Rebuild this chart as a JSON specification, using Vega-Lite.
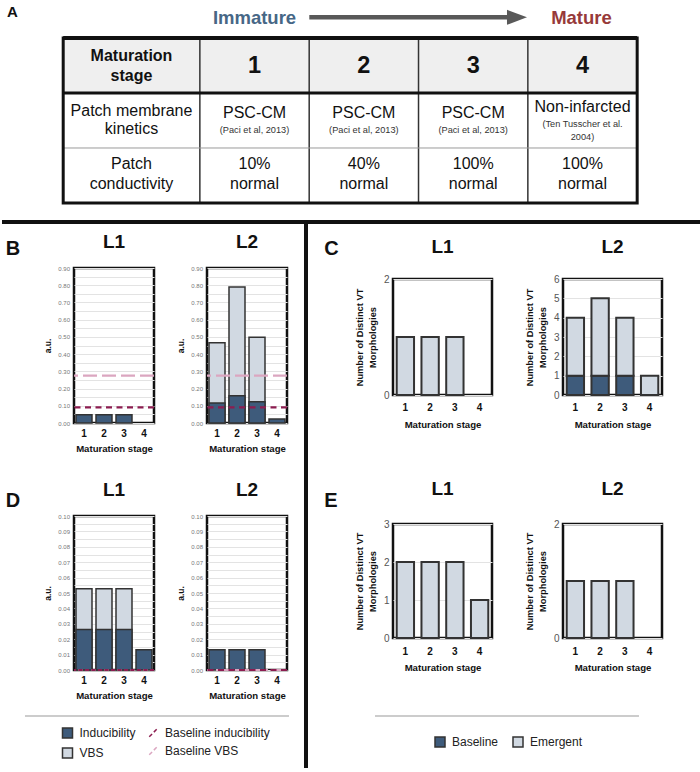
{
  "$schema": "https://vega.github.io/schema/vega-lite/v6.json",
  "background": "white",
  "padding": 0,
  "datasets": {
    "cells": [
      {"c": 0, "r": 0, "t": "Maturation\nstage", "k": "head"},
      {"c": 1, "r": 0, "t": "1", "k": "num"},
      {"c": 2, "r": 0, "t": "2", "k": "num"},
      {"c": 3, "r": 0, "t": "3", "k": "num"},
      {"c": 4, "r": 0, "t": "4", "k": "num"},
      {"c": 0, "r": 1, "t": "Patch membrane\nkinetics", "k": "rowlabel1"},
      {"c": 1, "r": 1, "t": "PSC-CM", "k": "main"},
      {"c": 2, "r": 1, "t": "PSC-CM", "k": "main"},
      {"c": 3, "r": 1, "t": "PSC-CM", "k": "main"},
      {"c": 1, "r": 1, "t": "(Paci et al, 2013)", "k": "ref"},
      {"c": 2, "r": 1, "t": "(Paci et al, 2013)", "k": "ref"},
      {"c": 3, "r": 1, "t": "(Paci et al, 2013)", "k": "ref"},
      {"c": 4, "r": 1, "t": "Non-infarcted", "k": "main4"},
      {"c": 4, "r": 1, "t": "(Ten Tusscher et al.\n2004)", "k": "ref4"},
      {"c": 0, "r": 2, "t": "Patch\nconductivity", "k": "rowlabel2"},
      {"c": 1, "r": 2, "t": "10%\nnormal", "k": "pct"},
      {"c": 2, "r": 2, "t": "40%\nnormal", "k": "pct"},
      {"c": 3, "r": 2, "t": "100%\nnormal", "k": "pct"},
      {"c": 4, "r": 2, "t": "100%\nnormal", "k": "pct"}
    ],
    "bars": [
      {"panel": "B", "loc": "L1", "stage": 1, "series": "Inducibility", "value": 0.048},
      {"panel": "B", "loc": "L1", "stage": 2, "series": "Inducibility", "value": 0.048},
      {"panel": "B", "loc": "L1", "stage": 3, "series": "Inducibility", "value": 0.048},
      {"panel": "B", "loc": "L2", "stage": 1, "series": "VBS", "value": 0.466},
      {"panel": "B", "loc": "L2", "stage": 2, "series": "VBS", "value": 0.79},
      {"panel": "B", "loc": "L2", "stage": 3, "series": "VBS", "value": 0.498},
      {"panel": "B", "loc": "L2", "stage": 1, "series": "Inducibility", "value": 0.116},
      {"panel": "B", "loc": "L2", "stage": 2, "series": "Inducibility", "value": 0.158},
      {"panel": "B", "loc": "L2", "stage": 3, "series": "Inducibility", "value": 0.124},
      {"panel": "B", "loc": "L2", "stage": 4, "series": "Inducibility", "value": 0.023},
      {"panel": "D", "loc": "L1", "stage": 1, "series": "VBS", "value": 0.0528},
      {"panel": "D", "loc": "L1", "stage": 2, "series": "VBS", "value": 0.0528},
      {"panel": "D", "loc": "L1", "stage": 3, "series": "VBS", "value": 0.0528},
      {"panel": "D", "loc": "L1", "stage": 1, "series": "Inducibility", "value": 0.0263},
      {"panel": "D", "loc": "L1", "stage": 2, "series": "Inducibility", "value": 0.0263},
      {"panel": "D", "loc": "L1", "stage": 3, "series": "Inducibility", "value": 0.0263},
      {"panel": "D", "loc": "L1", "stage": 4, "series": "Inducibility", "value": 0.0132},
      {"panel": "D", "loc": "L2", "stage": 1, "series": "Inducibility", "value": 0.0132},
      {"panel": "D", "loc": "L2", "stage": 2, "series": "Inducibility", "value": 0.0132},
      {"panel": "D", "loc": "L2", "stage": 3, "series": "Inducibility", "value": 0.0132}
    ],
    "baselines": [
      {"panel": "B", "loc": "L1", "series": "Baseline VBS", "value": 0.275},
      {"panel": "B", "loc": "L1", "series": "Baseline inducibility", "value": 0.091},
      {"panel": "B", "loc": "L2", "series": "Baseline VBS", "value": 0.275},
      {"panel": "B", "loc": "L2", "series": "Baseline inducibility", "value": 0.091},
      {"panel": "D", "loc": "L1", "series": "Baseline VBS", "value": 0},
      {"panel": "D", "loc": "L1", "series": "Baseline inducibility", "value": 0},
      {"panel": "D", "loc": "L2", "series": "Baseline VBS", "value": 0},
      {"panel": "D", "loc": "L2", "series": "Baseline inducibility", "value": 0}
    ],
    "vt": [
      {"panel": "C", "loc": "L1", "stage": 1, "type": "Emergent", "count": 1},
      {"panel": "C", "loc": "L1", "stage": 2, "type": "Emergent", "count": 1},
      {"panel": "C", "loc": "L1", "stage": 3, "type": "Emergent", "count": 1},
      {"panel": "C", "loc": "L2", "stage": 1, "type": "Baseline", "count": 1},
      {"panel": "C", "loc": "L2", "stage": 2, "type": "Baseline", "count": 1},
      {"panel": "C", "loc": "L2", "stage": 3, "type": "Baseline", "count": 1},
      {"panel": "C", "loc": "L2", "stage": 1, "type": "Emergent", "count": 3},
      {"panel": "C", "loc": "L2", "stage": 2, "type": "Emergent", "count": 4},
      {"panel": "C", "loc": "L2", "stage": 3, "type": "Emergent", "count": 3},
      {"panel": "C", "loc": "L2", "stage": 4, "type": "Emergent", "count": 1},
      {"panel": "E", "loc": "L1", "stage": 1, "type": "Emergent", "count": 2},
      {"panel": "E", "loc": "L1", "stage": 2, "type": "Emergent", "count": 2},
      {"panel": "E", "loc": "L1", "stage": 3, "type": "Emergent", "count": 2},
      {"panel": "E", "loc": "L1", "stage": 4, "type": "Emergent", "count": 1},
      {"panel": "E", "loc": "L2", "stage": 1, "type": "Emergent", "count": 1},
      {"panel": "E", "loc": "L2", "stage": 2, "type": "Emergent", "count": 1},
      {"panel": "E", "loc": "L2", "stage": 3, "type": "Emergent", "count": 1}
    ]
  },
  "config": {
    "view": {"stroke": "#111", "strokeWidth": 2.5},
    "title": {"font": "Liberation Sans", "fontWeight": "bold", "fontSize": 19, "color": "#111", "baseline": "alphabetic", "frame": "group", "anchor": "middle"},
    "axis": {"domain": false, "ticks": false, "labelFont": "Liberation Sans", "titleFont": "Liberation Sans", "titleFontWeight": "bold", "titleColor": "#111", "gridColor": "#e3e3e3", "gridWidth": 1, "labelOverlap": false},
    "axisX": {"labelAngle": 0, "labelFontSize": 10, "labelFontWeight": "bold", "labelColor": "#111", "titleFontSize": 9.6, "grid": false},
    "axisY": {"grid": true, "tickCount": 100},
    "legend": {"padding": 0, "labelFont": "Liberation Sans", "labelFontSize": 12, "labelColor": "#222", "labelLimit": 0, "symbolSize": 100, "labelOffset": 6}
  },
  "bounds": "flush",
  "spacing": 46,
  "resolve": {"scale": {"color": "independent", "stroke": "independent", "strokeDash": "independent"}, "legend": {"color": "independent", "stroke": "independent", "strokeDash": "independent"}},
  "vconcat": [
    {
      "width": 626,
      "height": 222,
      "view": {"stroke": null},
      "data": {"name": "cells"},
      "layer": [
        {"data": {"values": [{}]}, "mark": {"type": "rect", "color": "#efefef"},
         "encoding": {
           "x": {"datum": -0.75, "type": "quantitative", "scale": {"domain": [-0.6512, 5.0746], "nice": false, "zero": false}, "axis": null},
           "x2": {"datum": 4.5},
           "y": {"datum": -0.5, "type": "quantitative", "scale": {"domain": [-1.1909, 2.8455], "nice": false, "zero": false, "reverse": true}, "axis": null},
           "y2": {"datum": 0.5}}},
        {"data": {"values": [{}]}, "mark": {"type": "rule", "stroke": "#333", "strokeWidth": 1.5},
         "encoding": {"x": {"datum": 0.5, "type": "quantitative"}, "y": {"datum": -0.5, "type": "quantitative"}, "y2": {"datum": 2.5}}},
        {"data": {"values": [{}]}, "mark": {"type": "rule", "stroke": "#333", "strokeWidth": 1.5},
         "encoding": {"x": {"datum": 1.5, "type": "quantitative"}, "y": {"datum": -0.5, "type": "quantitative"}, "y2": {"datum": 2.5}}},
        {"data": {"values": [{}]}, "mark": {"type": "rule", "stroke": "#333", "strokeWidth": 1.5},
         "encoding": {"x": {"datum": 2.5, "type": "quantitative"}, "y": {"datum": -0.5, "type": "quantitative"}, "y2": {"datum": 2.5}}},
        {"data": {"values": [{}]}, "mark": {"type": "rule", "stroke": "#333", "strokeWidth": 1.5},
         "encoding": {"x": {"datum": 3.5, "type": "quantitative"}, "y": {"datum": -0.5, "type": "quantitative"}, "y2": {"datum": 2.5}}},
        {"data": {"values": [{}]}, "mark": {"type": "rule", "stroke": "#9a9a9a", "strokeWidth": 1},
         "encoding": {"x": {"datum": -0.75, "type": "quantitative"}, "x2": {"datum": 4.5}, "y": {"datum": 1.5, "type": "quantitative"}}},
        {"data": {"values": [{}]}, "mark": {"type": "rule", "stroke": "#111", "strokeWidth": 3},
         "encoding": {"x": {"datum": -0.75, "type": "quantitative"}, "x2": {"datum": 4.5}, "y": {"datum": 0.5, "type": "quantitative"}}},
        {"data": {"values": [{}]}, "mark": {"type": "rect", "fillOpacity": 0, "stroke": "#111", "strokeWidth": 3},
         "encoding": {"x": {"datum": -0.75, "type": "quantitative"}, "x2": {"datum": 4.5}, "y": {"datum": -0.5, "type": "quantitative"}, "y2": {"datum": 2.5}}},
        {"data": {"values": [{}]}, "mark": {"type": "rule", "stroke": "#111", "strokeWidth": 4},
         "encoding": {"x": {"datum": -0.75, "type": "quantitative"}, "x2": {"datum": 4.5}, "y": {"datum": -0.5, "type": "quantitative"}}},
        {"transform": [{"filter": "datum.k === 'head'"}],
         "mark": {"type": "text", "font": "Liberation Sans", "fontWeight": "bold", "fontSize": 16, "lineBreak": "\n", "lineHeight": 20, "dx": -13.7, "dy": -9.5, "baseline": "middle", "align": "center", "color": "#111"},
         "encoding": {"x": {"field": "c", "type": "quantitative"}, "y": {"field": "r", "type": "quantitative"}, "text": {"field": "t"}}},
        {"transform": [{"filter": "datum.k === 'num'"}],
         "mark": {"type": "text", "font": "Liberation Sans", "fontWeight": "bold", "fontSize": 23.5, "dy": 1, "baseline": "middle", "align": "center", "color": "#111"},
         "encoding": {"x": {"field": "c", "type": "quantitative"}, "y": {"field": "r", "type": "quantitative"}, "text": {"field": "t"}}},
        {"transform": [{"filter": "datum.k === 'rowlabel1'"}],
         "mark": {"type": "text", "font": "Liberation Sans", "fontSize": 16, "lineBreak": "\n", "lineHeight": 18, "dx": -13.7, "dy": -9.5, "baseline": "middle", "align": "center", "color": "#111"},
         "encoding": {"x": {"field": "c", "type": "quantitative"}, "y": {"field": "r", "type": "quantitative"}, "text": {"field": "t"}}},
        {"transform": [{"filter": "datum.k === 'rowlabel2'"}],
         "mark": {"type": "text", "font": "Liberation Sans", "fontSize": 16, "lineBreak": "\n", "lineHeight": 20, "dx": -13.7, "dy": -11.5, "baseline": "middle", "align": "center", "color": "#111"},
         "encoding": {"x": {"field": "c", "type": "quantitative"}, "y": {"field": "r", "type": "quantitative"}, "text": {"field": "t"}}},
        {"transform": [{"filter": "datum.k === 'main'"}],
         "mark": {"type": "text", "font": "Liberation Sans", "fontSize": 16, "dy": -7, "baseline": "middle", "align": "center", "color": "#111"},
         "encoding": {"x": {"field": "c", "type": "quantitative"}, "y": {"field": "r", "type": "quantitative"}, "text": {"field": "t"}}},
        {"transform": [{"filter": "datum.k === 'main4'"}],
         "mark": {"type": "text", "font": "Liberation Sans", "fontSize": 16, "dy": -13, "baseline": "middle", "align": "center", "color": "#111"},
         "encoding": {"x": {"field": "c", "type": "quantitative"}, "y": {"field": "r", "type": "quantitative"}, "text": {"field": "t"}}},
        {"transform": [{"filter": "datum.k === 'ref'"}],
         "mark": {"type": "text", "font": "Liberation Sans", "fontSize": 9.2, "dy": 9.5, "baseline": "middle", "align": "center", "color": "#333"},
         "encoding": {"x": {"field": "c", "type": "quantitative"}, "y": {"field": "r", "type": "quantitative"}, "text": {"field": "t"}}},
        {"transform": [{"filter": "datum.k === 'ref4'"}],
         "mark": {"type": "text", "font": "Liberation Sans", "fontSize": 9.2, "lineBreak": "\n", "lineHeight": 13, "dy": 4, "baseline": "middle", "align": "center", "color": "#333"},
         "encoding": {"x": {"field": "c", "type": "quantitative"}, "y": {"field": "r", "type": "quantitative"}, "text": {"field": "t"}}},
        {"transform": [{"filter": "datum.k === 'pct'"}],
         "mark": {"type": "text", "font": "Liberation Sans", "fontSize": 16, "lineBreak": "\n", "lineHeight": 20, "dy": -11.5, "baseline": "middle", "align": "center", "color": "#111"},
         "encoding": {"x": {"field": "c", "type": "quantitative"}, "y": {"field": "r", "type": "quantitative"}, "text": {"field": "t"}}},
        {"data": {"values": [{}]}, "mark": {"type": "rule", "stroke": "#595959", "strokeWidth": 4.5},
         "encoding": {"x": {"datum": 1.501, "type": "quantitative"}, "x2": {"datum": 3.32}, "y": {"datum": -0.876, "type": "quantitative"}}},
        {"data": {"values": [{}]}, "mark": {"type": "point", "shape": "M-1,-0.75L1,0L-1,0.75Z", "size": 400, "filled": true, "color": "#595959", "opacity": 1, "strokeWidth": 0},
         "encoding": {"x": {"datum": 3.4006, "type": "quantitative"}, "y": {"datum": -0.876, "type": "quantitative"}}},
        {"data": {"values": [{}]}, "mark": {"type": "text", "text": "Immature", "font": "Liberation Sans", "fontWeight": "bold", "fontSize": 18.5, "baseline": "middle", "align": "center", "color": "#476786"},
         "encoding": {"x": {"datum": 1.0, "type": "quantitative"}, "y": {"datum": -0.87, "type": "quantitative"}}},
        {"data": {"values": [{}]}, "mark": {"type": "text", "text": "Mature", "font": "Liberation Sans", "fontWeight": "bold", "fontSize": 18.5, "baseline": "middle", "align": "center", "color": "#973a3a"},
         "encoding": {"x": {"datum": 3.9906, "type": "quantitative"}, "y": {"datum": -0.87, "type": "quantitative"}}},
        {"data": {"values": [{}]}, "mark": {"type": "text", "text": "A", "font": "Liberation Sans", "fontWeight": "bold", "fontSize": 15, "baseline": "middle", "align": "center", "color": "#111"},
         "encoding": {"x": {"datum": -1.2138, "type": "quantitative"}, "y": {"datum": -0.9727, "type": "quantitative"}}},
        {"data": {"values": [{}]}, "mark": {"type": "text", "text": "B", "font": "Liberation Sans", "fontWeight": "bold", "fontSize": 20, "baseline": "middle", "align": "center", "color": "#111"},
         "encoding": {"x": {"datum": -1.2092, "type": "quantitative"}, "y": {"datum": 3.33, "type": "quantitative"}}},
        {"data": {"values": [{}]}, "mark": {"type": "text", "text": "C", "font": "Liberation Sans", "fontWeight": "bold", "fontSize": 20, "baseline": "middle", "align": "center", "color": "#111"},
         "encoding": {"x": {"datum": 1.704, "type": "quantitative"}, "y": {"datum": 3.33, "type": "quantitative"}}},
        {"data": {"values": [{}]}, "mark": {"type": "text", "text": "D", "font": "Liberation Sans", "fontWeight": "bold", "fontSize": 20, "baseline": "middle", "align": "center", "color": "#111"},
         "encoding": {"x": {"datum": -1.2092, "type": "quantitative"}, "y": {"datum": 7.92, "type": "quantitative"}}},
        {"data": {"values": [{}]}, "mark": {"type": "text", "text": "E", "font": "Liberation Sans", "fontWeight": "bold", "fontSize": 20, "baseline": "middle", "align": "center", "color": "#111"},
         "encoding": {"x": {"datum": 1.6995, "type": "quantitative"}, "y": {"datum": 7.92, "type": "quantitative"}}},
        {"data": {"values": [{}]}, "mark": {"type": "rule", "stroke": "#111", "strokeWidth": 4},
         "encoding": {"x": {"datum": -1.3097, "type": "quantitative"}, "x2": {"datum": 5.0746}, "y": {"datum": 2.8455, "type": "quantitative"}}},
        {"data": {"values": [{}]}, "mark": {"type": "rule", "stroke": "#111", "strokeWidth": 4},
         "encoding": {"x": {"datum": 1.4708, "type": "quantitative"}, "y": {"datum": 2.8455, "type": "quantitative"}, "y2": {"datum": 12.7727}}},
        {"data": {"values": [{}]}, "mark": {"type": "rule", "stroke": "#cccccc", "strokeWidth": 2},
         "encoding": {"x": {"datum": -1.0995, "type": "quantitative"}, "x2": {"datum": 1.3153}, "y": {"datum": 11.8273, "type": "quantitative"}}},
        {"data": {"values": [{}]}, "mark": {"type": "rule", "stroke": "#cccccc", "strokeWidth": 2},
         "encoding": {"x": {"datum": 2.1019, "type": "quantitative"}, "x2": {"datum": 4.5164}, "y": {"datum": 11.8273, "type": "quantitative"}}}
      ]
    },
    {
      "bounds": "full",
      "spacing": 64,
      "resolve": {"scale": {"color": "independent", "stroke": "independent", "strokeDash": "independent"}, "legend": {"color": "independent", "stroke": "independent", "strokeDash": "independent"}},
      "hconcat": [
        {
          "bounds": "flush",
          "spacing": 248,
          "resolve": {"scale": {"color": "independent", "stroke": "independent", "strokeDash": "independent"}, "legend": {"color": "independent", "stroke": "independent", "strokeDash": "independent"}},
          "vconcat": [
            {
              "bounds": "flush",
              "spacing": 53,
              "resolve": {"scale": {"color": "independent", "stroke": "independent", "strokeDash": "independent"}, "legend": {"color": "independent", "stroke": "independent", "strokeDash": "independent"}},
              "hconcat": [
                {
                  "width": 80, "height": 155,
                  "title": {"text": "L1", "offset": 13.3},
                  "layer": [
                    {"data": {"name": "bars"}, "transform": [{"filter": "datum.panel === 'B' && datum.loc === 'L1'"}],
                     "mark": {"type": "bar", "stroke": "#333", "strokeWidth": 1.5},
                     "encoding": {
                       "x": {"field": "stage", "type": "ordinal", "scale": {"domain": [1, 2, 3, 4], "paddingInner": 0.2, "paddingOuter": 0.1},
                             "axis": {"title": "Maturation stage", "labelPadding": 5.5, "titlePadding": 5.2}},
                       "y": {"field": "value", "type": "quantitative", "stack": null, "scale": {"domain": [0, 0.9], "nice": false},
                             "axis": {"title": "a.u.", "values": [0, 0.05, 0.1, 0.15, 0.2, 0.25, 0.3, 0.35, 0.4, 0.45, 0.5, 0.55, 0.6, 0.65, 0.7, 0.75, 0.8, 0.85, 0.9], "tickCount": 100,
                                      "labelExpr": "round(datum.value * 100) % 10 === 0 ? format(datum.value, '.2f') : ''", "labelOverlap": false,
                                      "labelFontSize": 6, "labelColor": "#777", "labelPadding": 4.5, "titleFontSize": 8.5, "titlePadding": 5}},
                       "color": {"field": "series", "type": "nominal", "scale": {"domain": ["Inducibility", "VBS"], "range": ["#3e5b7b", "#d1d9e2"]}, "legend": null}
                     }},
                    {"data": {"name": "baselines"}, "transform": [{"filter": "datum.panel === 'B' && datum.loc === 'L1'"}],
                     "mark": {"type": "rule", "strokeWidth": 2.2},
                     "encoding": {
                       "y": {"field": "value", "type": "quantitative"},
                       "stroke": {"field": "series", "type": "nominal", "scale": {"domain": ["Baseline inducibility", "Baseline VBS"], "range": ["#8c1d50", "#dba6c0"]}, "legend": null},
                       "strokeDash": {"field": "series", "type": "nominal", "scale": {"domain": ["Baseline inducibility", "Baseline VBS"], "range": [[6, 4.5], [14, 5]]}, "legend": null}
                     }}
                  ]
                },
                {
                  "width": 80, "height": 155,
                  "title": {"text": "L2", "offset": 13.3},
                  "layer": [
                    {"data": {"name": "bars"}, "transform": [{"filter": "datum.panel === 'B' && datum.loc === 'L2'"}],
                     "mark": {"type": "bar", "stroke": "#333", "strokeWidth": 1.5},
                     "encoding": {
                       "x": {"field": "stage", "type": "ordinal", "scale": {"domain": [1, 2, 3, 4], "paddingInner": 0.2, "paddingOuter": 0.1},
                             "axis": {"title": "Maturation stage", "labelPadding": 5.5, "titlePadding": 5.2}},
                       "y": {"field": "value", "type": "quantitative", "stack": null, "scale": {"domain": [0, 0.9], "nice": false},
                             "axis": {"title": "a.u.", "values": [0, 0.05, 0.1, 0.15, 0.2, 0.25, 0.3, 0.35, 0.4, 0.45, 0.5, 0.55, 0.6, 0.65, 0.7, 0.75, 0.8, 0.85, 0.9], "tickCount": 100,
                                      "labelExpr": "round(datum.value * 100) % 10 === 0 ? format(datum.value, '.2f') : ''", "labelOverlap": false,
                                      "labelFontSize": 6, "labelColor": "#777", "labelPadding": 4.5, "titleFontSize": 8.5, "titlePadding": 5}},
                       "color": {"field": "series", "type": "nominal", "scale": {"domain": ["Inducibility", "VBS"], "range": ["#3e5b7b", "#d1d9e2"]}, "legend": null}
                     }},
                    {"data": {"name": "baselines"}, "transform": [{"filter": "datum.panel === 'B' && datum.loc === 'L2'"}],
                     "mark": {"type": "rule", "strokeWidth": 2.2},
                     "encoding": {
                       "y": {"field": "value", "type": "quantitative"},
                       "stroke": {"field": "series", "type": "nominal", "scale": {"domain": ["Baseline inducibility", "Baseline VBS"], "range": ["#8c1d50", "#dba6c0"]}, "legend": null},
                       "strokeDash": {"field": "series", "type": "nominal", "scale": {"domain": ["Baseline inducibility", "Baseline VBS"], "range": [[6, 4.5], [14, 5]]}, "legend": null}
                     }}
                  ]
                }
              ]
            },
            {
              "bounds": "flush",
              "spacing": 53,
              "resolve": {"scale": {"color": "independent", "stroke": "independent", "strokeDash": "independent"}, "legend": {"color": "independent", "stroke": "independent", "strokeDash": "independent"}},
              "hconcat": [
                {
                  "width": 80, "height": 154,
                  "title": {"text": "L1", "offset": 12.8},
                  "layer": [
                    {"data": {"name": "bars"}, "transform": [{"filter": "datum.panel === 'D' && datum.loc === 'L1'"}],
                     "mark": {"type": "bar", "stroke": "#333", "strokeWidth": 1.5},
                     "encoding": {
                       "x": {"field": "stage", "type": "ordinal", "scale": {"domain": [1, 2, 3, 4], "paddingInner": 0.2, "paddingOuter": 0.1},
                             "axis": {"title": "Maturation stage", "labelPadding": 5.5, "titlePadding": 5.2}},
                       "y": {"field": "value", "type": "quantitative", "stack": null, "scale": {"domain": [0, 0.1], "nice": false},
                             "axis": {"title": "a.u.", "values": [0, 0.005, 0.01, 0.015, 0.02, 0.025, 0.03, 0.035, 0.04, 0.045, 0.05, 0.055, 0.06, 0.065, 0.07, 0.075, 0.08, 0.085, 0.09, 0.095, 0.1], "tickCount": 100,
                                      "labelExpr": "round(datum.value * 1000) % 10 === 0 ? format(datum.value, '.2f') : ''", "labelOverlap": false,
                                      "labelFontSize": 6, "labelColor": "#777", "labelPadding": 4.5, "titleFontSize": 8.5, "titlePadding": 5}},
                       "color": {"field": "series", "type": "nominal", "scale": {"domain": ["Inducibility", "VBS"], "range": ["#3e5b7b", "#d1d9e2"]},
                                 "legend": {"orient": "none", "legendX": -12.5, "legendY": 211, "title": null, "direction": "vertical", "rowPadding": 4}}
                     }},
                    {"data": {"name": "baselines"}, "transform": [{"filter": "datum.panel === 'D' && datum.loc === 'L1'"}],
                     "mark": {"type": "rule", "strokeWidth": 2.2},
                     "encoding": {
                       "y": {"field": "value", "type": "quantitative"},
                       "stroke": {"field": "series", "type": "nominal", "scale": {"domain": ["Baseline inducibility", "Baseline VBS"], "range": ["#8c1d50", "#dba6c0"]},
                                  "legend": {"orient": "none", "legendX": 73, "legendY": 211, "title": null, "direction": "vertical", "rowPadding": 4, "symbolType": "M-0.75,0.75L0.75,-0.75"}},
                       "strokeDash": {"field": "series", "type": "nominal", "scale": {"domain": ["Baseline inducibility", "Baseline VBS"], "range": [[4, 2.5], [4, 2.5]]}}
                     }}
                  ]
                },
                {
                  "width": 80, "height": 154,
                  "title": {"text": "L2", "offset": 12.8},
                  "layer": [
                    {"data": {"name": "bars"}, "transform": [{"filter": "datum.panel === 'D' && datum.loc === 'L2'"}],
                     "mark": {"type": "bar", "stroke": "#333", "strokeWidth": 1.5},
                     "encoding": {
                       "x": {"field": "stage", "type": "ordinal", "scale": {"domain": [1, 2, 3, 4], "paddingInner": 0.2, "paddingOuter": 0.1},
                             "axis": {"title": "Maturation stage", "labelPadding": 5.5, "titlePadding": 5.2}},
                       "y": {"field": "value", "type": "quantitative", "stack": null, "scale": {"domain": [0, 0.1], "nice": false},
                             "axis": {"title": "a.u.", "values": [0, 0.005, 0.01, 0.015, 0.02, 0.025, 0.03, 0.035, 0.04, 0.045, 0.05, 0.055, 0.06, 0.065, 0.07, 0.075, 0.08, 0.085, 0.09, 0.095, 0.1], "tickCount": 100,
                                      "labelExpr": "round(datum.value * 1000) % 10 === 0 ? format(datum.value, '.2f') : ''", "labelOverlap": false,
                                      "labelFontSize": 6, "labelColor": "#777", "labelPadding": 4.5, "titleFontSize": 8.5, "titlePadding": 5}},
                       "color": {"field": "series", "type": "nominal", "scale": {"domain": ["Inducibility", "VBS"], "range": ["#3e5b7b", "#d1d9e2"]}, "legend": null}
                     }},
                    {"data": {"name": "baselines"}, "transform": [{"filter": "datum.panel === 'D' && datum.loc === 'L2'"}],
                     "mark": {"type": "rule", "strokeWidth": 2.2},
                     "encoding": {
                       "y": {"field": "value", "type": "quantitative"},
                       "stroke": {"field": "series", "type": "nominal", "scale": {"domain": ["Baseline inducibility", "Baseline VBS"], "range": ["#8c1d50", "#dba6c0"]}, "legend": null},
                       "strokeDash": {"field": "series", "type": "nominal", "scale": {"domain": ["Baseline inducibility", "Baseline VBS"], "range": [[6, 4.5], [14, 5]]}, "legend": null}
                     }}
                  ]
                }
              ]
            }
          ]
        },
        {
          "bounds": "flush",
          "spacing": 0,
          "resolve": {"scale": {"color": "independent"}, "legend": {"color": "independent"}},
          "vconcat": [
            {"width": 1, "height": 11, "view": {"stroke": null}, "data": {"values": []}, "mark": "point", "encoding": {}},
            {
              "bounds": "flush",
              "spacing": 245,
              "resolve": {"scale": {"color": "independent"}, "legend": {"color": "independent"}},
              "vconcat": [
                {
                  "bounds": "flush",
                  "spacing": 71,
                  "resolve": {"scale": {"color": "independent"}, "legend": {"color": "independent"}},
                  "hconcat": [
                    {
                      "width": 99, "height": 116,
                      "title": {"text": "L1", "offset": 17.5},
                      "data": {"name": "vt"},
                      "transform": [{"filter": "datum.panel === 'C' && datum.loc === 'L1'"}],
                      "mark": {"type": "bar", "stroke": "#333", "strokeWidth": 2},
                      "encoding": {
                        "x": {"field": "stage", "type": "ordinal", "scale": {"domain": [1, 2, 3, 4], "paddingInner": 0.3, "paddingOuter": 0.15},
                              "axis": {"title": "Maturation stage", "labelPadding": 7.5, "titlePadding": 7}},
                        "y": {"field": "count", "type": "quantitative", "scale": {"domain": [0, 2], "nice": false},
                              "axis": {"title": ["Number of Distinct VT", "Morphologies"], "values": [0, 1, 2], "format": "d", "labelFontSize": 10, "labelColor": "#555", "labelPadding": 4, "titleFontSize": 9.3, "titleLineHeight": 13, "titlePadding": 5.5}},
                        "color": {"field": "type", "type": "nominal", "scale": {"domain": ["Baseline", "Emergent"], "range": ["#3e5b7b", "#d1d9e2"]}, "legend": null},
                        "order": {"field": "type", "sort": "ascending"}
                      }
                    },
                    {
                      "width": 99, "height": 116,
                      "title": {"text": "L2", "offset": 17.5},
                      "data": {"name": "vt"},
                      "transform": [{"filter": "datum.panel === 'C' && datum.loc === 'L2'"}],
                      "mark": {"type": "bar", "stroke": "#333", "strokeWidth": 2},
                      "encoding": {
                        "x": {"field": "stage", "type": "ordinal", "scale": {"domain": [1, 2, 3, 4], "paddingInner": 0.3, "paddingOuter": 0.15},
                              "axis": {"title": "Maturation stage", "labelPadding": 7.5, "titlePadding": 7}},
                        "y": {"field": "count", "type": "quantitative", "scale": {"domain": [0, 6], "nice": false},
                              "axis": {"title": ["Number of Distinct VT", "Morphologies"], "values": [0, 1, 2, 3, 4, 5, 6], "format": "d", "labelFontSize": 10, "labelColor": "#555", "labelPadding": 4, "titleFontSize": 9.3, "titleLineHeight": 13, "titlePadding": 5.5}},
                        "color": {"field": "type", "type": "nominal", "scale": {"domain": ["Baseline", "Emergent"], "range": ["#3e5b7b", "#d1d9e2"]}, "legend": null},
                        "order": {"field": "type", "sort": "ascending"}
                      }
                    }
                  ]
                },
                {
                  "bounds": "flush",
                  "spacing": 71,
                  "resolve": {"scale": {"color": "independent"}, "legend": {"color": "independent"}},
                  "hconcat": [
                    {
                      "width": 99, "height": 114,
                      "title": {"text": "L1", "offset": 20.5},
                      "data": {"name": "vt"},
                      "transform": [{"filter": "datum.panel === 'E' && datum.loc === 'L1'"}],
                      "mark": {"type": "bar", "stroke": "#333", "strokeWidth": 2},
                      "encoding": {
                        "x": {"field": "stage", "type": "ordinal", "scale": {"domain": [1, 2, 3, 4], "paddingInner": 0.3, "paddingOuter": 0.15},
                              "axis": {"title": "Maturation stage", "labelPadding": 8.5, "titlePadding": 6}},
                        "y": {"field": "count", "type": "quantitative", "scale": {"domain": [0, 3], "nice": false},
                              "axis": {"title": ["Number of Distinct VT", "Morphologies"], "values": [0, 1, 2, 3], "format": "d", "labelFontSize": 10, "labelColor": "#555", "labelPadding": 4, "titleFontSize": 9.3, "titleLineHeight": 13, "titlePadding": 5.5}},
                        "color": {"field": "type", "type": "nominal", "scale": {"domain": ["Baseline", "Emergent"], "range": ["#3e5b7b", "#d1d9e2"]},
                                  "legend": {"orient": "none", "legendX": 41, "legendY": 212, "title": null, "direction": "horizontal", "columnPadding": 11}},
                        "order": {"field": "type", "sort": "ascending"}
                      }
                    },
                    {
                      "width": 99, "height": 114,
                      "title": {"text": "L2", "offset": 20.5},
                      "data": {"name": "vt"},
                      "transform": [{"filter": "datum.panel === 'E' && datum.loc === 'L2'"}],
                      "mark": {"type": "bar", "stroke": "#333", "strokeWidth": 2},
                      "encoding": {
                        "x": {"field": "stage", "type": "ordinal", "scale": {"domain": [1, 2, 3, 4], "paddingInner": 0.3, "paddingOuter": 0.15},
                              "axis": {"title": "Maturation stage", "labelPadding": 8.5, "titlePadding": 6}},
                        "y": {"field": "count", "type": "quantitative", "scale": {"domain": [0, 2], "nice": false},
                              "axis": {"title": ["Number of Distinct VT", "Morphologies"], "values": [0, 1, 2], "format": "d", "labelFontSize": 10, "labelColor": "#555", "labelPadding": 4, "titleFontSize": 9.3, "titleLineHeight": 13, "titlePadding": 5.5}},
                        "color": {"field": "type", "type": "nominal", "scale": {"domain": ["Baseline", "Emergent"], "range": ["#3e5b7b", "#d1d9e2"]}, "legend": null},
                        "order": {"field": "type", "sort": "ascending"}
                      }
                    }
                  ]
                }
              ]
            }
          ]
        }
      ]
    }
  ]
}
